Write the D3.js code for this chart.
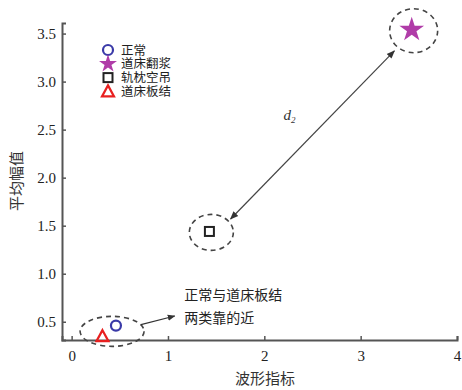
<!DOCTYPE html>
<html><head><meta charset="utf-8">
<script src="https://cdn.jsdelivr.net/npm/d3@7"></script>
<style>body{margin:0;background:#fff}svg{display:block}</style>
</head><body><svg id="c" width="462" height="390"></svg>
<script>
const categories = ["正常", "道床翻浆", "轨枕空吊", "道床板结"];
const xValues = [0.46, 3.53, 1.43, 0.32];
const yValues = [0.46, 3.54, 1.44, 0.35];
const colors = ["#3a3aa8", "#b03ca8", "#222222", "#e82020"];
const xTicks = [0, 1, 2, 3, 4];
const yTicks = [0.5, 1.0, 1.5, 2.0, 2.5, 3.0, 3.5];

const svg = d3.select("#c");
const x = d3.scaleLinear().domain([-0.1, 4.0]).range([62, 457]);
const y = d3.scaleLinear().domain([0.31, 3.61]).range([340, 23]);
const serif = "'Liberation Serif','DejaVu Serif',serif";
const cjk = "'Noto Sans CJK SC',sans-serif";

const defs = svg.append("defs");
defs.append("marker").attr("id","ah").attr("viewBox","0 0 10 10").attr("refX",9).attr("refY",5)
  .attr("markerWidth",7).attr("markerHeight",7).attr("orient","auto-start-reverse")
  .append("path").attr("d","M0,1L10,5L0,9z").attr("fill","#333");

// axes
const xa = svg.append("g").attr("transform",`translate(0,${y.range()[0]})`)
  .call(d3.axisBottom(x).tickValues(xTicks).tickSize(-4).tickPadding(10).tickFormat(d3.format("d")));
const ya = svg.append("g").attr("transform",`translate(${x.range()[0]},0)`)
  .call(d3.axisLeft(y).tickValues(yTicks).tickSize(-4).tickPadding(6).tickFormat(d3.format(".1f")));
[xa, ya].forEach(a => {
  a.select(".domain").attr("stroke","#555").attr("stroke-width",2);
  a.selectAll(".tick line").attr("stroke","#555").attr("stroke-width",1.5);
  a.selectAll("text").attr("font-family",serif).attr("font-size",15).attr("fill","#222");
});

// axis labels
svg.append("text").attr("x",265).attr("y",384).attr("text-anchor","middle")
  .attr("font-family",cjk).attr("font-size",15).attr("fill","#333").text("波形指标");
svg.append("text").attr("transform","translate(22,181) rotate(-90)").attr("text-anchor","middle")
  .attr("font-family",cjk).attr("font-size",15).attr("fill","#333").text("平均幅值");

// dashed ellipses
const ell = [
  {cx:0.42, cy:0.40, rx:32, ry:15},
  {cx:1.45, cy:1.43, rx:22, ry:18},
  {cx:3.55, cy:3.53, rx:24, ry:22}
];
svg.selectAll("ellipse.g").data(ell).join("ellipse")
  .attr("cx",d=>x(d.cx)).attr("cy",d=>y(d.cy)).attr("rx",d=>d.rx).attr("ry",d=>d.ry)
  .attr("fill","none").attr("stroke","#444").attr("stroke-width",1.6).attr("stroke-dasharray","5,4");

// double arrow d2
svg.append("line").attr("x1",x(1.65)).attr("y1",y(1.57)).attr("x2",x(3.35)).attr("y2",y(3.32))
  .attr("stroke","#444").attr("stroke-width",1.2)
  .attr("marker-start","url(#ah)").attr("marker-end","url(#ah)");
const d2 = svg.append("text").attr("x",x(2.2)).attr("y",y(2.6)).attr("font-family",serif)
  .attr("font-style","italic").attr("font-size",15).attr("fill","#333");
d2.append("tspan").text("d");
d2.append("tspan").attr("font-size",9).attr("dy",3).text("2");

// annotation arrow
svg.append("line").attr("x1",x(0.72)).attr("y1",y(0.47)).attr("x2",x(1.07)).attr("y2",y(0.56))
  .attr("stroke","#333").attr("stroke-width",1.1).attr("marker-end","url(#ah)");
svg.append("text").attr("x",x(1.17)).attr("y",y(0.73)).attr("font-family",cjk).attr("font-size",14)
  .attr("fill","#222").text("正常与道床板结");
svg.append("text").attr("x",x(1.17)).attr("y",y(0.49)).attr("font-family",cjk).attr("font-size",14)
  .attr("fill","#222").text("两类靠的近");

// markers
function drawMarker(g, i, px, py, big) {
  const c = colors[i];
  if (i === 0) g.append("circle").attr("cx",px).attr("cy",py).attr("r",5).attr("fill","none").attr("stroke",c).attr("stroke-width",2.2);
  else if (i === 1) g.append("path").attr("transform",`translate(${px},${py})`)
    .attr("d",d3.symbol().type(d3.symbolStar).size(big?190:100)()).attr("fill",c);
  else if (i === 2) g.append("rect").attr("x",px-4.5).attr("y",py-4.5).attr("width",9).attr("height",9)
    .attr("fill","none").attr("stroke",c).attr("stroke-width",2);
  else g.append("path").attr("transform",`translate(${px},${py})`)
    .attr("d","M0,-6L6,5L-6,5Z").attr("fill","none").attr("stroke",c).attr("stroke-width",2.2);
}
const pts = svg.append("g");
categories.forEach((c,i)=>drawMarker(pts, i, x(xValues[i]), y(yValues[i]), true));

// legend
const lg = svg.append("g");
categories.forEach((c,i)=>{
  const ly = 50 + i*13.8;
  drawMarker(lg, i, 108, ly, false);
  lg.append("text").attr("x",121).attr("y",ly+4.5).attr("font-family",cjk).attr("font-size",12.5)
    .attr("fill","#222").text(c);
});
</script></body></html>
